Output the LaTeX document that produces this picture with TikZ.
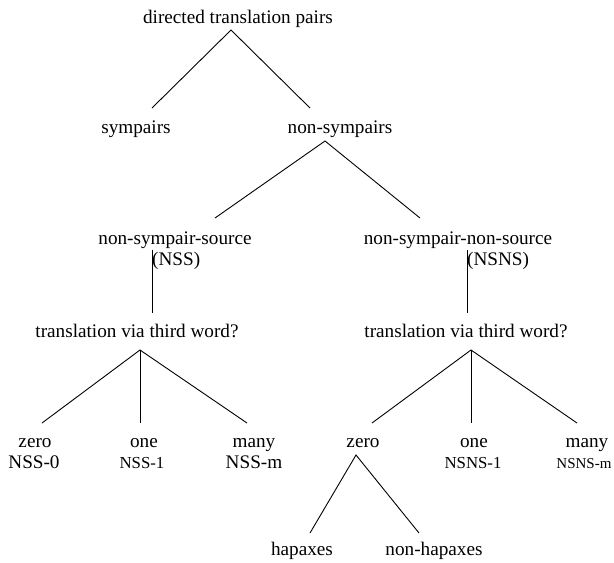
\documentclass[tikz,border=0pt]{standalone}
\usepackage{fontspec}
\setmainfont{Liberation Serif}
\begin{document}
\begin{tikzpicture}[x=1pt,y=-1pt,
  lbl/.style={anchor=base,inner sep=0pt,font=\fontsize{19.2}{23}\selectfont},
  lblsm/.style={anchor=base,inner sep=0pt,font=\fontsize{16.8}{20}\selectfont},
  lblxs/.style={anchor=base,inner sep=0pt,font=\fontsize{15}{18}\selectfont},
  edge/.style={draw=black,line width=0.9pt}]
\useasboundingbox (0,0) rectangle (614,563);
% labels
\node[lbl] (root) at (238,23) {directed translation pairs};
\node[lbl] (sym) at (136,133) {sympairs};
\node[lbl] (nonsym) at (340,133) {non-sympairs};
\node[lbl] (nss) at (175,244) {non-sympair-source};
\node[lbl,anchor=base west] (nssab) at (152,265) {(NSS)};
\node[lbl] (nsns) at (458,244) {non-sympair-non-source};
\node[lbl,anchor=base west] (nsnsab) at (467,265) {(NSNS)};
\node[lbl] (tvl) at (137,337) {translation via third word?};
\node[lbl] (tvr) at (466,337) {translation via third word?};
\node[lbl] (lz) at (35,447) {zero};
\node[lbl] (lzc) at (34,468) {NSS-0};
\node[lbl] (lo) at (144,447) {one};
\node[lblsm] (loc) at (142,468) {NSS-1};
\node[lbl] (lm) at (254,447) {many};
\node[lbl] (lmc) at (254,468) {NSS-m};
\node[lbl] (rz) at (363,447) {zero};
\node[lbl] (ro) at (474,447) {one};
\node[lblsm] (roc) at (473,468) {NSNS-1};
\node[lbl] (rm) at (587,447) {many};
\node[lblxs] (rmc) at (584,468) {NSNS-m};
\node[lbl] (hap) at (302,555) {hapaxes};
\node[lbl] (nhap) at (434,555) {non-hapaxes};
% connector ends
\coordinate (cRoot) at (231,30);
\coordinate (cSym) at (152,108);
\coordinate (cNonsymT) at (310,108);
\coordinate (cNonsymB) at (325,141);
\coordinate (cNssT) at (215,218);
\coordinate (cNsnsT) at (420,218);
\coordinate (cNssB) at (152,250);
\coordinate (cTvlT) at (152,313);
\coordinate (cNsnsB) at (467,250);
\coordinate (cTvrT) at (467,313);
\coordinate (cTvlB) at (140,350);
\coordinate (cLz) at (42,423);
\coordinate (cLo) at (140,423);
\coordinate (cLm) at (247,423);
\coordinate (cTvrB) at (471,350);
\coordinate (cRzT) at (372,423);
\coordinate (cRo) at (471,423);
\coordinate (cRm) at (577,423);
\coordinate (cRzB) at (356,455);
\coordinate (cHap) at (310,533);
\coordinate (cNhap) at (419,533);
% connectors
\draw[edge] (cSym) -- (cRoot) -- (cNonsymT);
\draw[edge] (cNssT) -- (cNonsymB) -- (cNsnsT);
\draw[edge] (cNssB) -- (cTvlT);
\draw[edge] (cNsnsB) -- (cTvrT);
\draw[edge] (cLz) -- (cTvlB) -- (cLm);
\draw[edge] (cTvlB) -- (cLo);
\draw[edge] (cRzT) -- (cTvrB) -- (cRm);
\draw[edge] (cTvrB) -- (cRo);
\draw[edge] (cHap) -- (cRzB) -- (cNhap);
\end{tikzpicture}
\end{document}
